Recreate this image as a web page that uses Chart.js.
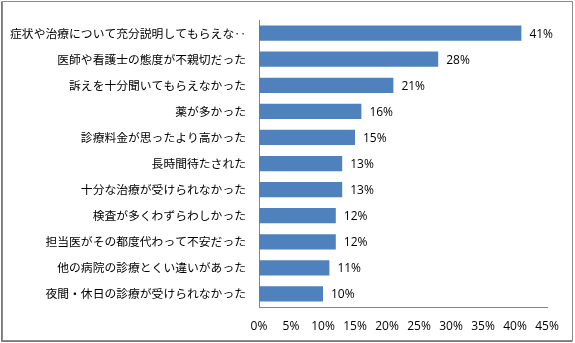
<!DOCTYPE html>
<html>
<head>
<meta charset="utf-8">
<script src="https://cdn.jsdelivr.net/npm/chart.js@4"></script>
<style>
  html, body { margin: 0; padding: 0; background: #fff; }
  #wrap { width: 575px; height: 343px; }
</style>
</head>
<body>
<div id="wrap"><canvas id="chart" width="575" height="343"></canvas></div>
<script>
// categories, top to bottom as in the picture
var labels = [
  "症状や治療について充分説明してもらえな‥",
  "医師や看護士の態度が不親切だった",
  "訴えを十分聞いてもらえなかった",
  "薬が多かった",
  "診療料金が思ったより高かった",
  "長時間待たされた",
  "十分な治療が受けられなかった",
  "検査が多くわずらわしかった",
  "担当医がその都度代わって不安だった",
  "他の病院の診療とくい違いがあった",
  "夜間・休日の診療が受けられなかった"
];
// percent values
var values = [41, 28, 21, 16, 15, 13, 13, 12, 12, 11, 10];

var BAR_COLOUR = "#4F81BD";
var AXIS_COLOUR = "#868686";
var JP_FONT = "'Noto Sans CJK JP', sans-serif";
var NUM_FONT = "'Open Sans', 'Noto Sans', sans-serif";

//draws the % next to each bar, like excel data labels
var valueLabels = {
  id: 'valueLabels',
  afterDatasetsDraw: function(chart) {
    var ctx = chart.ctx;
    var meta = chart.getDatasetMeta(0);
    ctx.save();
    ctx.font = "12px " + NUM_FONT;
    ctx.fillStyle = "#000";
    ctx.textAlign = "left";
    ctx.textBaseline = "middle";
    meta.data.forEach(function(bar, i) {
      ctx.fillText(values[i] + "%", bar.x + 8, bar.y + 1);
    });
    ctx.restore();
  }
};

//outer frame of the chart
var frame = {
  id: 'frame',
  afterDraw: function(chart) {
    var ctx = chart.ctx;
    ctx.save();
    ctx.strokeStyle = "#8a8a8a";
    ctx.lineWidth = 1;
    ctx.strokeRect(2.5, 1.5, 570, 339);
    ctx.strokeStyle = "#7a7a7a";
    ctx.beginPath();
    ctx.moveTo(1.5, 1.5); ctx.lineTo(1.5, 341.5); ctx.lineTo(572.5, 341.5);
    ctx.stroke();
    ctx.restore();
  }
};

var ctx = document.getElementById('chart').getContext('2d');
var chart = new Chart(ctx, {
  type: 'bar',
  data: {
    labels: labels,
    datasets: [{
      data: values,
      backgroundColor: BAR_COLOUR,
      borderWidth: 0,
      categoryPercentage: 1,
      barPercentage: 0.585
    }]
  },
  options: {
    indexAxis: 'y',
    responsive: false,
    animation: false,
    layout: { padding: { left: 0, right: 28, top: 15, bottom: 0 } },
    plugins: {
      legend: { display: false },
      tooltip: { enabled: false }
    },
    scales: {
      x: {
        min: 0,
        max: 45,
        grid: { display: false, drawTicks: false },
        border: { display: true, color: AXIS_COLOUR, width: 1 },
        ticks: {
          stepSize: 5,
          padding: 12,
          color: "#000",
          font: { size: 12, family: NUM_FONT },
          maxRotation: 0,
          callback: function(v) { return v + "%"; }
        },
        afterFit: function(s) { s.height = 36; }
      },
      y: {
        grid: { display: false, drawTicks: false },
        border: { display: true, color: AXIS_COLOUR, width: 1 },
        ticks: {
          padding: 13,
          color: "#000",
          autoSkip: false,
          font: { size: 11.8, family: JP_FONT }
        },
        afterFit: function(s) { s.width = 259; }
      }
    }
  },
  plugins: [valueLabels, frame]
});
</script>
</body>
</html>
